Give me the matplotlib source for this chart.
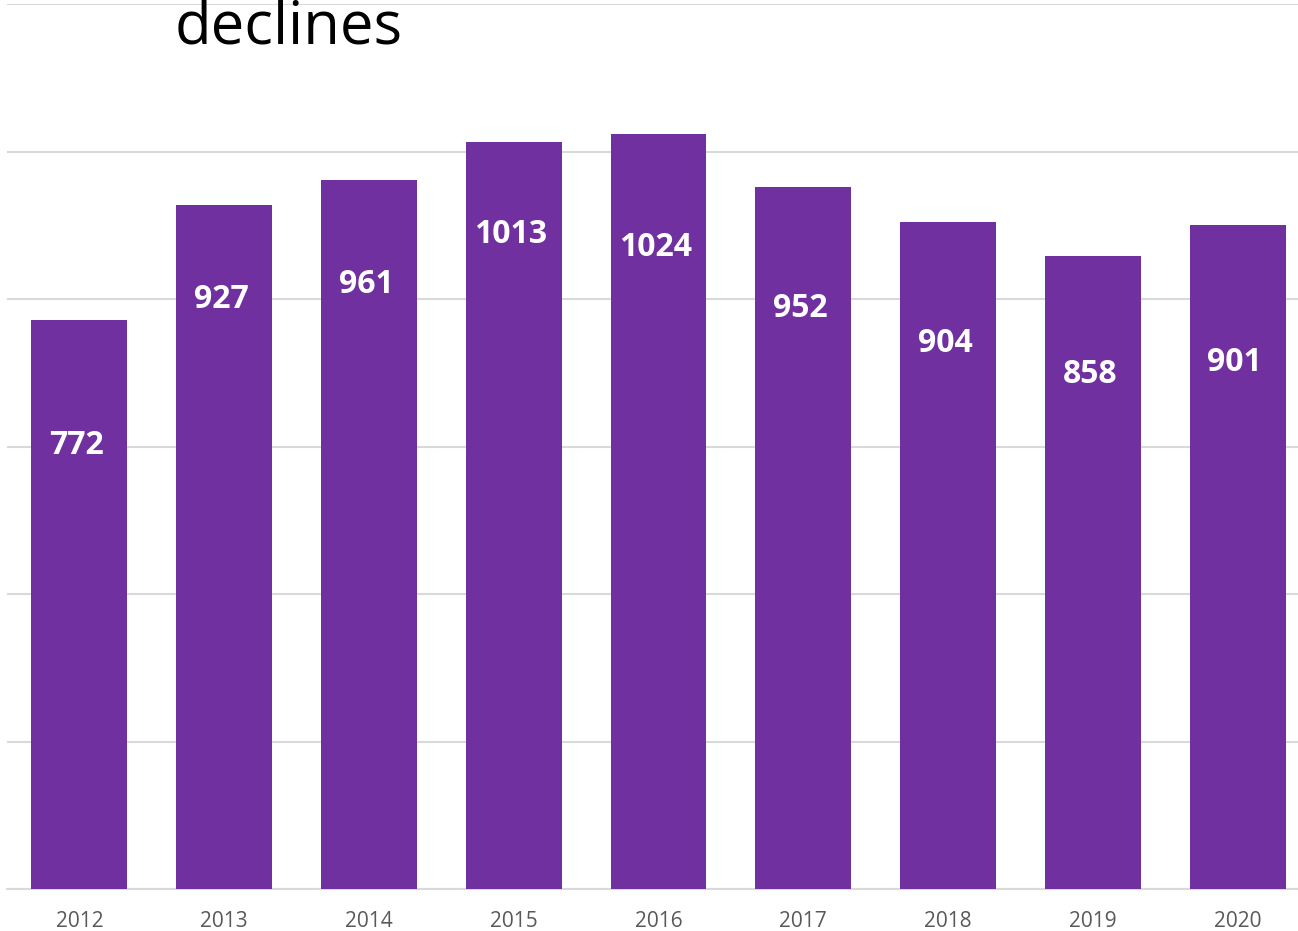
import matplotlib
matplotlib.use('Agg')
from matplotlib import pyplot as plt

years = ['2012', '2013', '2014', '2015', '2016', '2017', '2018', '2019', '2020']
counts = [772, 927, 961, 1013, 1024, 952, 904, 858, 901]
# how far below the bar top each label sits (data units)
label_drop = [170, 128, 142, 126, 154, 165, 165, 160, 187]

purple = '#7030A0'
grid_col = '#D9D9D9'

fig = plt.figure(figsize=(12.98, 9.31), dpi=100)
ax = fig.add_axes([7 / 1298, 42 / 931, 1303 / 1298, 885 / 931])

x = range(len(years))
ax.bar(x, counts, width=0.663, color=purple, zorder=3)

for i, v in enumerate(counts):
    ax.text(i - 0.02, v - label_drop[i], str(v), ha='center', va='center',
            color='white', fontsize=23, fontweight='bold', family='Open Sans', zorder=4)

ax.set_xlim(-0.5, len(years) - 0.5)
ax.set_ylim(0, 1200)
ax.set_yticks(range(0, 1201, 200))
ax.yaxis.grid(True, color=grid_col, linewidth=1.5, zorder=0)
ax.set_yticklabels([])
ax.tick_params(axis='y', length=0)
ax.set_xticks(list(x))
ax.set_xticklabels(years, fontsize=15, color='#595959', family='Open Sans')
ax.tick_params(axis='x', length=0, pad=16)
for s in ['top', 'right', 'left']:
    ax.spines[s].set_visible(False)
ax.spines['bottom'].set_color('#D9D9D9')
ax.spines['bottom'].set_linewidth(1.5)

fig.text(175 / 1298, 1 - 44 / 931, 'declines', fontsize=43, family='Open Sans',
         ha='left', va='baseline', color='black')

fig.savefig('out.png', dpi=100)
